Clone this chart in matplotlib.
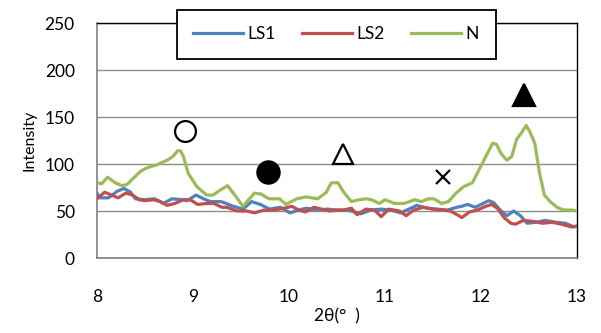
import matplotlib
matplotlib.use("Agg")
import matplotlib.pyplot as plt

plt.rcParams['font.family'] = ['Lato', 'DejaVu Sans']

# LS1 profile
ls1_x = [8.0, 8.03, 8.12, 8.21, 8.28, 8.35, 8.4, 8.5, 8.6, 8.69, 8.78, 8.89, 8.94,
         9.03, 9.11, 9.18, 9.29, 9.32, 9.42, 9.52, 9.61, 9.7, 9.8, 9.91, 10.01,
         10.1, 10.18, 10.29, 10.4, 10.5, 10.61, 10.75, 10.85, 10.96, 11.06, 11.16,
         11.27, 11.33, 11.44, 11.54, 11.65, 11.75, 11.8, 11.86, 11.94, 12.0, 12.08,
         12.13, 12.2, 12.27, 12.34, 12.41, 12.48, 12.57, 12.67, 12.78, 12.88, 12.97, 13.0]
ls1_y = [69, 64, 64, 71, 74, 70, 63, 62, 63, 58, 63, 62, 61,
         67, 63, 60, 60, 59, 55, 52, 60, 57, 52, 54, 48,
         51, 53, 51, 52, 51, 51, 47, 51, 52, 51, 48,
         53, 56, 53, 52, 51, 54, 55, 57, 54, 57, 61,
         59, 51, 45, 50, 45, 37, 38, 40, 38, 37, 33, 34]

# LS2 profile
ls2_x = [8.0, 8.08, 8.15, 8.22, 8.3, 8.37, 8.44, 8.5, 8.59, 8.66, 8.73, 8.81, 8.9,
         8.97, 9.05, 9.14, 9.22, 9.3, 9.35, 9.46, 9.56, 9.64, 9.74, 9.84, 9.95,
         10.03, 10.1, 10.17, 10.26, 10.34, 10.42, 10.5, 10.57, 10.65, 10.71, 10.8,
         10.89, 10.96, 11.04, 11.15, 11.22, 11.3, 11.4, 11.5, 11.6, 11.68, 11.77,
         11.8, 11.88, 11.96, 12.05, 12.11, 12.17, 12.24, 12.31, 12.36, 12.44, 12.54,
         12.64, 12.74, 12.84, 12.94, 13.0]
ls2_y = [63, 70, 67, 64, 69, 67, 62, 61, 62, 60, 56, 58, 62,
         62, 57, 58, 58, 54, 54, 50, 50, 48, 51, 51, 53,
         55, 51, 49, 54, 52, 50, 51, 51, 53, 46, 52,
         51, 44, 52, 50, 45, 51, 54, 52, 51, 50, 45,
         43, 49, 51, 55, 57, 53, 43, 37, 36, 40, 39,
         37, 38, 36, 33, 34]

# N profile
n_x = [8.0, 8.05, 8.11, 8.19, 8.26, 8.31, 8.45, 8.52, 8.62, 8.73, 8.79, 8.84, 8.87,
       8.9, 8.95, 9.04, 9.14, 9.21, 9.28, 9.36, 9.45, 9.52, 9.64, 9.71, 9.79,
       9.9, 9.97, 10.08, 10.18, 10.3, 10.39, 10.44, 10.51, 10.57, 10.65, 10.73,
       10.8, 10.86, 10.94, 11.0, 11.1, 11.2, 11.31, 11.38, 11.45, 11.51, 11.59,
       11.66, 11.74, 11.82, 11.91, 11.98, 12.05, 12.12, 12.16, 12.21, 12.27, 12.32,
       12.37, 12.42, 12.47, 12.51, 12.56, 12.61, 12.66, 12.72, 12.79, 12.86, 12.95, 13.0]
n_y = [80, 79, 86, 80, 77, 78, 92, 96, 99, 104, 108, 114, 114,
       108, 90, 76, 67, 67, 72, 77, 65, 55, 69, 68, 63,
       63, 57, 63, 65, 63, 70, 80, 80, 70, 60, 62,
       63, 62, 58, 62, 58, 58, 62, 60, 63, 63, 58,
       60, 69, 76, 80, 94, 108, 122, 121, 111, 104, 108,
       126, 133, 141, 134, 122, 90, 67, 60, 54, 51, 51, 50]

# peak symbols
sym_x = [8.92, 9.78, 10.56, 11.6, 12.45]
sym_y = [135, 92, 111, 86, 173]
sym_marker = ['o', 'o', '^', 'x', '^']
sym_fill = ['white', 'black', 'white', 'black', 'black']
sym_size = [15, 16, 15, 10, 16]

fig = plt.figure(figsize=(6.01, 3.33), dpi=100)
ax = fig.add_axes([0.1614, 0.2252, 0.7987, 0.7057])

ax.plot(ls1_x, ls1_y, color='#4F81BD', lw=2.3, label='LS1', zorder=3)
ax.plot(ls2_x, ls2_y, color='#C0504D', lw=2.3, label='LS2', zorder=3)
ax.plot(n_x, n_y, color='#9BBB59', lw=2.3, label='N', zorder=3)

for x, y, m, f, s in zip(sym_x, sym_y, sym_marker, sym_fill, sym_size):
    ax.plot([x], [y], marker=m, ms=s, mfc=f, mec='black', mew=1.6,
            ls='none', zorder=4)

ax.set_xlim(8, 13)
ax.set_ylim(0, 250)
ax.set_xticks([8, 9, 10, 11, 12, 13])
ax.set_yticks([0, 50, 100, 150, 200, 250])
ax.tick_params(axis='both', length=0, labelsize=12.5)
ax.tick_params(axis='x', pad=22)
ax.tick_params(axis='y', pad=16)
ax.grid(axis='y', color='#8c8c8c', lw=1.0)
ax.set_axisbelow(True)

for side in ['left', 'bottom']:
    ax.spines[side].set_color('#7f7f7f')
    ax.spines[side].set_linewidth(1.2)
for side in ['top', 'right']:
    ax.spines[side].set_color('black')
    ax.spines[side].set_linewidth(1.0)

ax.set_xlabel('2θ(°  )', fontsize=12.5, labelpad=3)
ax.set_ylabel('Intensity', fontsize=11.5, labelpad=6)

leg = ax.legend(loc='center', bbox_to_anchor=(0.498, 0.953), ncol=3,
                fontsize=12.5, frameon=True, fancybox=False, framealpha=1,
                edgecolor='black', handlelength=2.9, handletextpad=0.25,
                columnspacing=1.5, borderpad=0.95, borderaxespad=0)
leg.get_frame().set_linewidth(1.3)
leg.set_zorder(5)

fig.savefig('out.png', dpi=100)
